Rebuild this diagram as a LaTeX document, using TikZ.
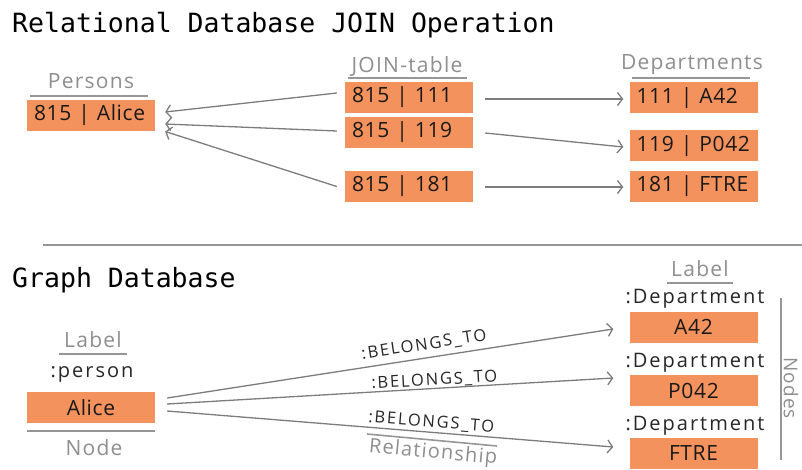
\documentclass[tikz,border=0pt]{standalone}
\usepackage{fontspec}
\usepackage{xcolor}
\usepackage{tikz}
\usetikzlibrary{arrows.meta}
\setmainfont{Open Sans}
\newfontfamily\codefont{DejaVu Sans Mono}
\newfontfamily\capfont{Open Sans}[LetterSpace=6]
\newfontfamily\typefont{Open Sans}[LetterSpace=10]
\newfontfamily\cellfont{Open Sans}[LetterSpace=3]
\newfontfamily\relfont{Open Sans}[LetterSpace=11]
\definecolor{cellorange}{HTML}{F4925E}
\definecolor{textgrey}{HTML}{8E8E8E}
\definecolor{linegrey}{HTML}{7C7C7C}
\pgfdeclarelayer{nodelayer}
\pgfdeclarelayer{edgelayer}
\pgfsetlayers{edgelayer,nodelayer,main}
\tikzstyle{heading}=[anchor=base west, inner sep=0pt, font=\codefont\fontsize{26.5}{30}\selectfont, text=black]
\tikzstyle{caption}=[anchor=base, inner sep=0pt, font=\capfont\fontsize{21}{24}\selectfont, text=textgrey]
\tikzstyle{typename}=[anchor=base, inner sep=0pt, font=\typefont\fontsize{20}{24}\selectfont, text=black!85]
\tikzstyle{cell}=[fill=cellorange, draw=none, minimum width=128pt, minimum height=31pt, inner sep=0pt, font=\cellfont\fontsize{21}{24}\selectfont, text=black!90]
\tikzstyle{tablerow}=[cell, text width=114pt, align=left]
\tikzstyle{rulegrey}=[draw=linegrey!80, line width=1.6pt]
\tikzstyle{relarrow}=[draw=linegrey, line width=1.3pt, -{Straight Barb[length=5pt, width=13pt]}]
\tikzstyle{edgelabel}=[font=\relfont\fontsize{16.5}{18}\selectfont, text=black!85, sloped, inner sep=0pt]

\begin{document}
\begin{tikzpicture}[x=1pt, y=-1pt]
	\useasboundingbox (0, 0) rectangle (802, 470);
	\begin{pgfonlayer}{nodelayer}
		\node [style=heading] (0) at (12, 33) {Relational Database JOIN Operation};
		\node [style=caption] (1) at (91, 89) {Persons};
		\node [style=caption] (2) at (407, 73) {JOIN-table};
		\node [style=caption] (3) at (692, 70) {Departments};
		\node [style=tablerow] (4) at (91, 115.5) {815 | Alice};
		\node [style=tablerow] (5) at (409, 97.5) {815 | 111};
		\node [style=tablerow] (6) at (409, 132.5) {815 | 119};
		\node [style=tablerow] (7) at (409, 186.5) {815 | 181};
		\node [style=tablerow] (8) at (693.5, 98) {111 | A42};
		\node [style=tablerow] (9) at (693.5, 146) {119 | P042};
		\node [style=tablerow] (10) at (693.5, 186.5) {181 | FTRE};
		\node [style=heading] (11) at (12, 287) {Graph Database};
		\node [style=caption] (12) at (93, 347) {Label};
		\node [style=typename] (13) at (92, 377) {:person};
		\node [style=cell] (14) at (91, 407.5) {Alice};
		\node [style=caption] (15) at (94, 455) {Node};
		\node [style=caption] (16) at (700, 276) {Label};
		\node [style=typename] (17) at (695, 303) {:Department};
		\node [style=cell] (18) at (693.5, 327) {A42};
		\node [style=typename] (19) at (695, 367) {:Department};
		\node [style=cell] (20) at (693.5, 390.5) {P042};
		\node [style=typename] (21) at (695, 430) {:Department};
		\node [style=cell] (22) at (693.5, 453) {FTRE};
		\node [style=caption, rotate=-90, anchor=center, font=\capfont\fontsize{19}{22}\selectfont] (23) at (791, 388) {Nodes};
		\node [style=caption, rotate=-5.3, anchor=center, font=\capfont\fontsize{20}{22}\selectfont] (24) at (433, 453) {Relationship};
	\end{pgfonlayer}
	\begin{pgfonlayer}{edgelayer}
		% underlines and rules
		\draw [style=rulegrey] (30, 96) -- (148, 96);
		\draw [style=rulegrey] (348, 78) -- (467, 78);
		\draw [style=rulegrey] (632, 78) -- (750, 78);
		\draw [style=rulegrey] (43, 245) -- (802, 245);
		\draw [style=rulegrey] (59, 354) -- (127, 354);
		\draw [style=rulegrey] (27, 431) -- (155, 431);
		\draw [style=rulegrey] (667, 283) -- (733, 283);
		\draw [style=rulegrey] (781, 298) -- (781, 460);
		\draw [style=rulegrey] (367, 434) -- (497, 446);
		% join table
		\draw [style=relarrow] ([xshift=-8pt, yshift=4.5pt]5.west) to ([xshift=10pt, yshift=3.5pt]4.east);
		\draw [style=relarrow] ([xshift=-8pt, yshift=1.5pt]6.west) to ([xshift=10pt, yshift=-8.5pt]4.east);
		\draw [style=relarrow] ([xshift=-8pt]7.west) to ([xshift=10pt, yshift=-16pt]4.east);
		\draw [style=relarrow] ([xshift=12pt, yshift=-1.5pt]5.east) to ([xshift=-6pt, yshift=-1pt]8.west);
		\draw [style=relarrow] ([xshift=12pt, yshift=-0.5pt]6.east) to ([xshift=-6pt, yshift=-1pt]9.west);
		\draw [style=relarrow] ([xshift=12pt, yshift=-0.5pt]7.east) to ([xshift=-6pt, yshift=-0.5pt]10.west);
		% graph
		\draw [style=relarrow] ([xshift=12pt, yshift=9.5pt]14.east) to node [style=edgelabel, pos=0.58, above=5pt] {:BELONGS\_TO} ([xshift=-16pt, yshift=-2pt]18.west);
		\draw [style=relarrow] ([xshift=12pt, yshift=3.5pt]14.east) to node [style=edgelabel, pos=0.6, above=0pt] {:BELONGS\_TO} ([xshift=-16pt, yshift=12.5pt]20.west);
		\draw [style=relarrow] ([xshift=12pt, yshift=-3.5pt]14.east) to node [style=edgelabel, pos=0.59, above=2pt] {:BELONGS\_TO} ([xshift=-16pt, yshift=6pt]22.west);
	\end{pgfonlayer}
\end{tikzpicture}
\end{document}
